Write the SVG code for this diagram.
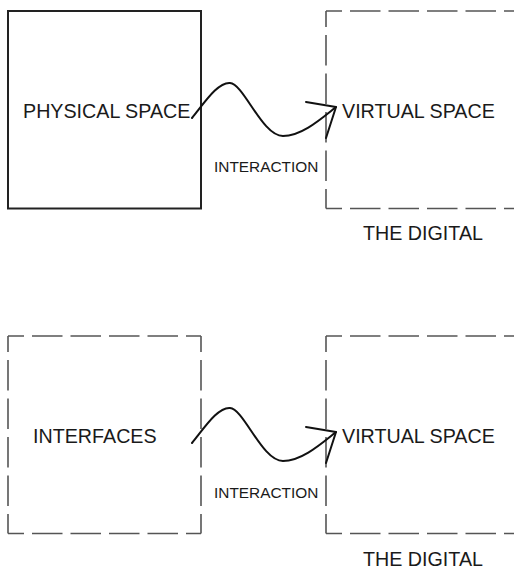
<svg xmlns="http://www.w3.org/2000/svg" width="514" height="569" viewBox="0 0 514 569">
<style>
.solid{fill:none;stroke:#222;stroke-width:2}
.dash{fill:none;stroke:#555;stroke-width:1.6;stroke-dasharray:30.5 8;stroke-dashoffset:14.5}
.lbl{font-family:"Liberation Sans",Arial,sans-serif;font-size:19.7px;fill:#1a1a1a}
.small{font-family:"Liberation Sans",Arial,sans-serif;font-size:15.4px;fill:#1a1a1a}
.wave{fill:none;stroke:#111;stroke-width:2;stroke-linecap:round;stroke-linejoin:round}
</style>
<rect width="514" height="569" fill="#fff"/>
<g id="physical">
<rect class="solid" x="8" y="11" width="193" height="197.5"/>
<text class="lbl" x="23" y="118">PHYSICAL SPACE</text>
</g>
<g id="virtual-top">
<path class="dash" d="M326,11 H530"/>
<path class="dash" d="M326,11 V208.5"/>
<path class="dash" d="M326,208.5 H530"/>
<text class="lbl" x="342" y="118">VIRTUAL SPACE</text>
<text class="lbl" x="363" y="240">THE DIGITAL</text>
</g>
<g id="interfaces">
<path class="dash" d="M8,336 H201"/>
<path class="dash" d="M8,336 V533.5"/>
<path class="dash" d="M201,336 V533.5"/>
<path class="dash" d="M8,533.5 H201"/>
<text class="lbl" x="33" y="443">INTERFACES</text>
</g>
<g id="virtual-bottom">
<path class="dash" d="M326,336 H530"/>
<path class="dash" d="M326,336 V533.5"/>
<path class="dash" d="M326,533.5 H530"/>
<text class="lbl" x="342" y="443">VIRTUAL SPACE</text>
<text class="lbl" x="363" y="566">THE DIGITAL</text>
</g>
<g id="connectors">
<path class="wave" d="M192,118 C205,102 218,82 230,83 C244,84 262,136 283,136 C302,136 322,118 336,107"/>
<path class="wave" d="M306,102 L336,107 L326,138"/>
<text class="small" x="214" y="172">INTERACTION</text>
<path class="wave" d="M192,443 C205,427 218,407 230,408 C244,409 262,461 283,461 C302,461 322,443 336,432"/>
<path class="wave" d="M306,427 L336,432 L326,463"/>
<text class="small" x="214" y="497.5">INTERACTION</text>
</g>
</svg>
